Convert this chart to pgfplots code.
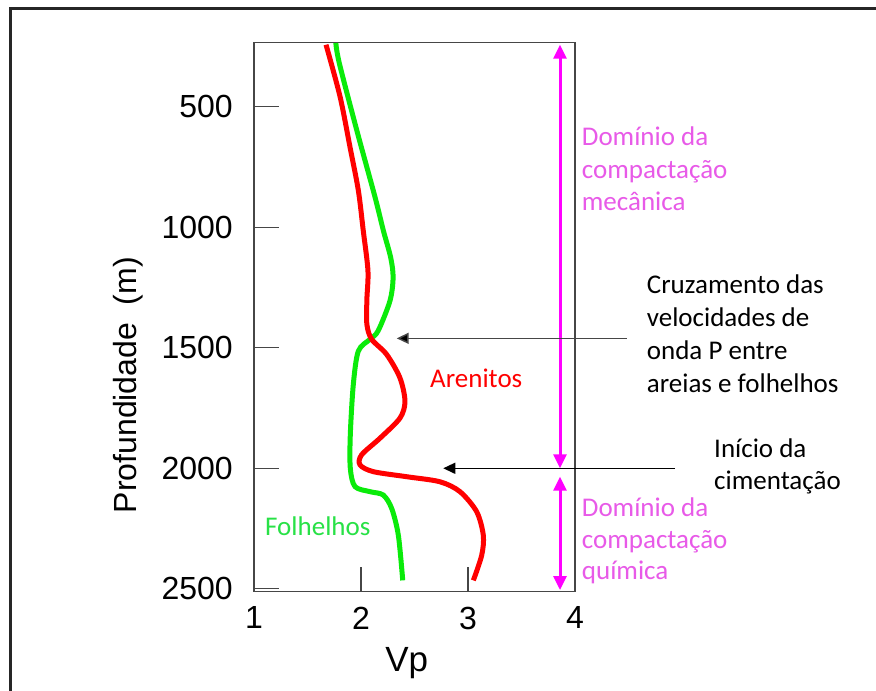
\documentclass[border=0pt]{standalone}
\usepackage{pgfplots}
\pgfplotsset{compat=1.18}
\usepackage{fontspec}
\setmainfont{Liberation Sans}
\newfontfamily\calib{Carlito}
\usetikzlibrary{arrows.meta}
\definecolor{lgreen}{RGB}{10,235,10}
\definecolor{tgreen}{RGB}{40,225,70}
\definecolor{lred}{RGB}{255,0,0}
\definecolor{amag}{RGB}{255,0,255}
\definecolor{tmag}{RGB}{232,90,232}
\definecolor{axgray}{RGB}{70,70,70}
\begin{document}
\begin{tikzpicture}
\useasboundingbox (0,0) rectangle (876bp,691bp);
\fill[white] (0,0) rectangle (876bp,691bp);
% outer frame (top and left edges visible)
\draw[line width=2.5bp, black!85] (876bp,682.5bp) -- (10.5bp,682.5bp) -- (10.5bp,0bp);
\begin{axis}[
  at={(254bp,99.3bp)}, anchor=south west,
  scale only axis, width=321bp, height=549.4bp,
  xmin=1, xmax=4, ymin=233, ymax=2512,
  y dir=reverse,
  clip=false,
  axis line style={axgray, line width=1.3bp},
  xtick={1,2,3,4}, ytick={500,1000,1500,2000,2500},
  xtick pos=bottom, ytick pos=left,
  tick align=inside, major tick length=25bp,
  tick style={axgray, line width=1.3bp},
  /pgf/number format/assume math mode=true,
  /pgf/number format/1000 sep={},
  tick label style={font=\fontsize{32bp}{37bp}\selectfont},
  yticklabel style={anchor=east, inner sep=0pt, xshift=-21bp},
  xticklabel style={anchor=north, inner sep=0pt, yshift=-15bp},
  xlabel={Vp},
  xlabel style={at={(axis description cs:0.4757,-0.1456)}, anchor=base, font=\fontsize{35bp}{40bp}\selectfont},
  ylabel={Profundidade\ \ (m)},
  ylabel style={at={(axis description cs:-0.3925,0.376)}, anchor=center, font=\fontsize{32bp}{38bp}\selectfont},
]
% Folhelhos (green)
\addplot[lgreen, line width=5bp, smooth, tension=0.5] coordinates {
(1.765,236) (1.797,319) (1.96,597) (2.131,875) (2.209,1014) (2.277,1125)
(2.300,1208) (2.271,1305) (2.16,1430) (2.084,1465) (1.975,1514) (1.928,1653)
(1.900,1861) (1.900,2000) (1.944,2076) (2.084,2097) (2.208,2111) (2.287,2167)
(2.349,2278) (2.39,2465)
};
% Arenitos (red)
\addplot[lred, line width=5bp, smooth, tension=0.5] coordinates {
(1.673,243) (1.804,458) (1.897,667) (1.975,847) (2.021,1014) (2.065,1180)
(2.055,1300) (2.055,1403) (2.1,1465) (2.24,1528) (2.364,1625) (2.411,1722)
(2.364,1792) (2.178,1875) (2.006,1944) (1.991,1986) (2.115,2014) (2.427,2035)
(2.738,2056) (2.925,2097) (3.081,2180) (3.143,2278) (3.128,2361) (3.05,2465)
};
% domain arrows (magenta)
\draw[amag, line width=3bp, {Triangle[width=13bp,length=14bp]}-{Triangle[width=13bp,length=14bp]}]
  (axis cs:3.86,243) -- (axis cs:3.86,2000);
\draw[amag, line width=3bp, {Triangle[width=13bp,length=14bp]}-{Triangle[width=13bp,length=14bp]}]
  (axis cs:3.86,2035) -- (axis cs:3.86,2505);
% pointer arrows (black)
\draw[axgray, line width=1.5bp, -{Triangle[width=11bp,length=12bp,fill=black]}]
  (axis cs:4.482,1461) -- (axis cs:2.334,1461);
\draw[black, line width=1.5bp, -{Triangle[width=11bp,length=12bp,fill=black]}]
  (axis cs:4.935,2000) -- (axis cs:2.769,2000);
\end{axis}
\begin{scope}[x=1bp, y=-1bp, yshift=691bp, every node/.style={inner sep=0pt, font=\calib\fontsize{27bp}{32bp}\selectfont}]
\node[anchor=base west, text=tmag] at (581.7,145.5) {Domínio da};
\node[anchor=base west, text=tmag] at (581.7,178.3) {compactação};
\node[anchor=base west, text=tmag] at (581.7,210.5) {mecânica};
\node[anchor=base west] at (646.7,293.3) {Cruzamento das};
\node[anchor=base west] at (646.7,326.7) {velocidades de};
\node[anchor=base west] at (646.7,360) {onda P entre};
\node[anchor=base west] at (646.7,392.7) {areias e folhelhos};
\node[anchor=base west] at (714,457.3) {Início da};
\node[anchor=base west] at (714,490) {cimentação};
\node[anchor=base west, text=tmag] at (581.7,516.7) {Domínio da};
\node[anchor=base west, text=tmag] at (581.7,548.3) {compactação};
\node[anchor=base west, text=tmag] at (581.7,580) {química};
\node[anchor=base west, text=lred] at (430,387.3) {Arenitos};
\node[anchor=base west, text=tgreen] at (265,536) {Folhelhos};
\end{scope}
\end{tikzpicture}
\end{document}
